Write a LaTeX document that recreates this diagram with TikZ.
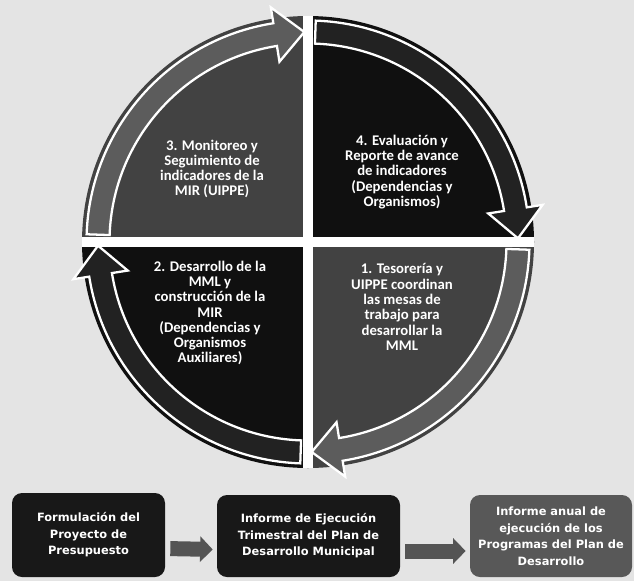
\documentclass[tikz,border=0pt]{standalone}
\usepackage{fontspec}
\setmainfont{Carlito}
\newfontfamily\boxfont{DejaVu Sans}
\usetikzlibrary{calc,positioning,arrows.meta}
\definecolor{paper}{RGB}{228,228,228}
\definecolor{quadgray}{RGB}{66,66,66}
\definecolor{quaddark}{RGB}{16,16,16}
\definecolor{ringgray}{RGB}{92,92,92}
\definecolor{ringdark}{RGB}{34,34,34}
\definecolor{boxdark}{RGB}{24,24,24}
\definecolor{boxgray}{RGB}{88,88,88}
\definecolor{arrgray}{RGB}{120,120,120}

\begin{document}
\begin{tikzpicture}[
  qtext/.style={text=white, align=center, font=\bfseries\fontsize{8.4}{8.7}\selectfont},
  stagebox/.style={rounded corners=0.2cm, text=white, align=center, inner sep=2pt,
    font=\boxfont\bfseries\fontsize{6.5}{9.4}\selectfont},
  blockarrow/.style={draw=arrgray!70!black, fill=arrgray, line width=0.3cm,
    -{Triangle[width=0.5cm,length=0.25cm]}, shorten <=0.1cm, shorten >=0.08cm}
]

\fill[paper] (0,0) rectangle (12.68,11.62);
\useasboundingbox (0,0) rectangle (12.68,11.62);

% Circle of the cycle, radius and ring radii
\def\R{4.52}
\def\RI{3.97}
\def\RO{4.43}
\def\RC{4.20}
\def\HI{3.65}
\def\HO{4.75}

\begin{scope}[shift={(6.16,6.78)}]
% ----- quarters -----
\foreach \a/\c in {0/quaddark,90/quadgray,180/quaddark,270/quadgray}
  \fill[\c] (0,0) -- (\a:\R) arc (\a:\a+90:\R) -- cycle;
\draw[white, line width=0.2cm] (-\R,0) -- (\R,0);
\draw[white, line width=0.2cm] (0,-\R) -- (0,\R);

% ----- ring arrows, clockwise: start/tip/colour -----
\foreach \s/\t/\c [evaluate=\t as \b using \t+8] in {178/91/ringgray,88/1/ringdark,-2/-89/ringgray,-92/-179/ringdark}
  \filldraw[fill=\c, draw=white, line width=1.3pt, line join=miter]
    (\s:\RO) arc (\s:\b:\RO) -- (\b:\HO) -- (\t:\RC) -- (\b:\HI) -- (\b:\RI) arc (\b:\s:\RI) -- cycle;

% ----- texts of the four steps -----
\node[qtext] (paso3) at (-1.92,1.46) {3. Monitoreo y\\Seguimiento de\\indicadores de la\\MIR (UIPPE)};
\node[qtext] (paso4) at (1.88,1.40) {4. Evaluación y\\Reporte de avance\\de indicadores\\(Dependencias y\\Organismos)};
\node[qtext] (paso2) at (-1.96,-1.42) {2. Desarrollo de la\\MML y\\construcción de la\\MIR\\(Dependencias y\\Organismos\\Auxiliares)};
\node[qtext] (paso1) at (1.88,-1.30) {1. Tesorería y\\UIPPE coordinan\\las mesas de\\trabajo para\\desarrollar la\\MML};
\end{scope}

% ----- ROW of reports -----
\node[stagebox, fill=boxdark, minimum width=3.06cm, minimum height=1.68cm] (formul) at (1.77,0.92) {Formulación del\\Proyecto de\\Presupuesto};
\node[stagebox, fill=boxdark, minimum width=3.66cm, minimum height=1.64cm] (trimes) at (6.17,0.90) {Informe de Ejecución\\Trimestral del Plan de\\Desarrollo Municipal};
\node[stagebox, fill=boxgray, minimum width=3.24cm, minimum height=1.64cm] (anual) at (11.02,0.90) {Informe anual de\\ejecución de los\\Programas del Plan de\\Desarrollo};

\draw[blockarrow] ([yshift=-0.27cm]formul.east) -- ([yshift=-0.27cm]trimes.west);
\draw[blockarrow] ([yshift=-0.3cm]trimes.east) -- ([yshift=-0.3cm]anual.west);

\end{tikzpicture}
\end{document}
